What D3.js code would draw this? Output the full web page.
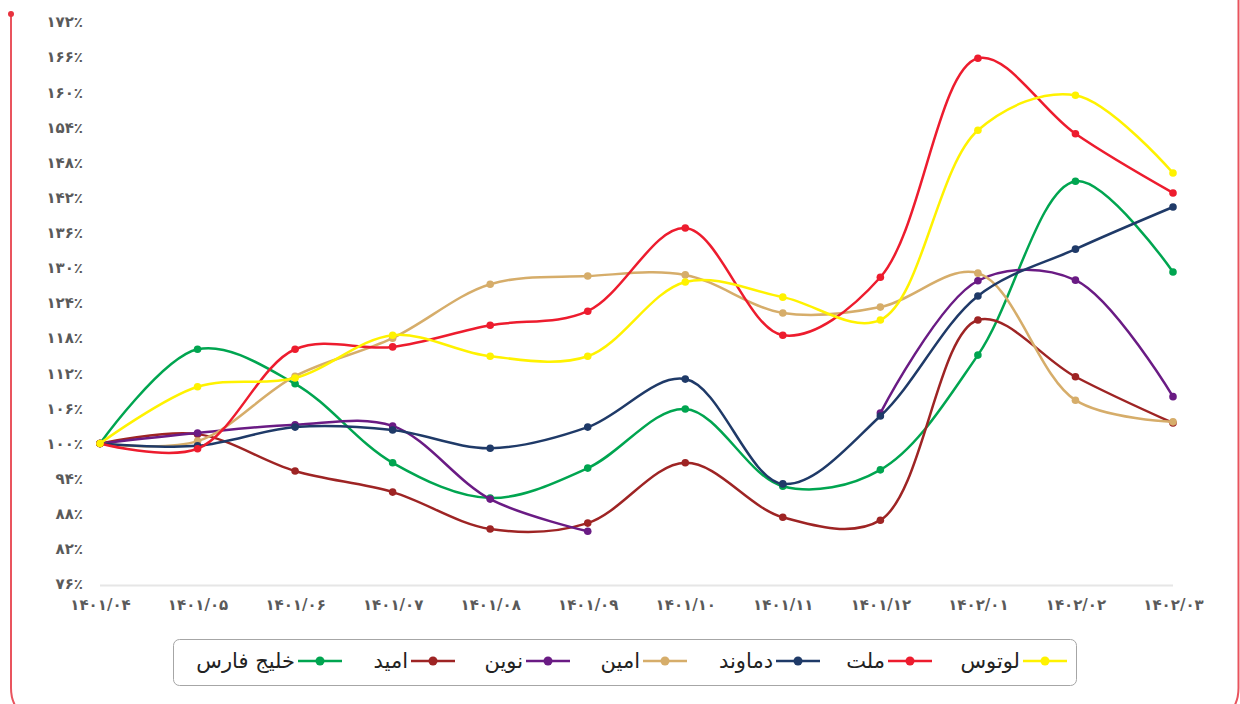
<!DOCTYPE html>
<html>
<head>
<meta charset="utf-8">
<script src="https://cdn.jsdelivr.net/npm/d3@7"></script>
<style>
    body { margin: 0; background: #fff; }
    svg text { font-family: "DejaVu Sans", sans-serif; }
</style>
</head>
<body>
<svg id="chart" width="1240" height="704"></svg>
<script>
var months = ["۱۴۰۱/۰۴", "۱۴۰۱/۰۵", "۱۴۰۱/۰۶", "۱۴۰۱/۰۷", "۱۴۰۱/۰۸", "۱۴۰۱/۰۹",
    "۱۴۰۱/۱۰", "۱۴۰۱/۱۱", "۱۴۰۱/۱۲", "۱۴۰۲/۰۱", "۱۴۰۲/۰۲", "۱۴۰۲/۰۳"];

var yTicks = [76, 82, 88, 94, 100, 106, 112, 118, 124, 130, 136, 142, 148, 154, 160, 166, 172];

var lotus    = [100, 109.7, 111.2, 118.5, 114.9, 114.9, 127.6, 125.0, 121.1, 153.5, 159.5, 146.2];
var mellat   = [100, 99.1, 116.1, 116.5, 120.2, 122.6, 136.8, 118.5, 128.4, 165.8, 152.9, 142.8];
var damavand = [100, 99.6, 102.8, 102.3, 99.2, 102.8, 111.0, 93.1, 104.7, 125.2, 133.2, 140.4];
var amin     = [100, 100.4, 111.5, 118.0, 127.2, 128.6, 128.8, 122.3, 123.3, 129.1, 107.4, 103.7];
var novin    = [100, 101.8, 103.2, 103.0, 90.5, 85.0, null, null, 105.2, 127.8, 127.9, 108.0];
var omid     = [100, 101.6, 95.3, 91.7, 85.4, 86.4, 96.7, 87.4, 86.9, 121.1, 111.4, 103.5];
var khalij   = [100, 116.1, 110.2, 96.7, 90.7, 95.8, 105.9, 92.7, 95.5, 115.1, 144.8, 129.3];

var seriesNames  = ["لوتوس", "ملت", "دماوند", "امین", "نوین", "امید", "خلیج فارس"];
var seriesValues = [lotus, mellat, damavand, amin, novin, omid, khalij];
var seriesColors = ["#fff200", "#ed1c2e", "#1f3a68", "#d6ad6a", "#6a1b84", "#9e2424", "#00a550"];

var svg = d3.select("#chart");

// outer frame (red, rounded bottom)
svg.append("path")
    .attr("d", "M11,14 L11,688 Q11,703 20,712 M1238.5,0 L1238.5,688 Q1238.5,703 1230,712")
    .attr("fill", "none")
    .attr("stroke", "#e9545e")
    .attr("stroke-width", 2);
svg.append("circle").attr("cx", 11).attr("cy", 14).attr("r", 3).attr("fill", "#e8323e");

var x = d3.scalePoint()
    .domain(months)
    .range([100, 1173]);

var y = d3.scaleLinear()
    .domain([76, 172])
    .range([584, 22]);

// axis baseline
svg.append("line")
    .attr("x1", 100).attr("x2", 1173)
    .attr("y1", 585.5).attr("y2", 585.5)
    .attr("stroke", "#e6e6e6")
    .attr("stroke-width", 2);

var toFa = function (n) {
    return String(n).replace(/\d/g, function (d) { return "۰۱۲۳۴۵۶۷۸۹"[+d]; });
};

var yAxis = svg.append("g")
    .attr("transform", "translate(83,0)")
    .call(d3.axisLeft(y).tickValues(yTicks).tickSize(0).tickPadding(0)
        .tickFormat(function (d) { return toFa(d) + "٪"; }));
yAxis.select(".domain").remove();
yAxis.selectAll("text")
    .attr("fill", "#5a5a5a")
    .attr("font-size", 15)
    .attr("font-weight", 600);

var xAxis = svg.append("g")
    .attr("transform", "translate(0,596)")
    .call(d3.axisBottom(x).tickSize(0).tickPadding(3));
xAxis.select(".domain").remove();
xAxis.selectAll("text")
    .attr("fill", "#5a5a5a")
    .attr("font-size", 15)
    .attr("font-weight", 600);

var line = d3.line()
    .defined(function (d) { return d != null; })
    .x(function (d, i) { return x(months[i]); })
    .y(function (d) { return y(d); })
    .curve(d3.curveCatmullRom.alpha(0.5));

// draw from back to front so lotus ends on top like the reference
var order = [6, 5, 4, 3, 2, 1, 0];
order.forEach(function (k) {
    var vals = seriesValues[k];
    var g = svg.append("g");
    g.append("path")
        .attr("d", line(vals))
        .attr("fill", "none")
        .attr("stroke", seriesColors[k])
        .attr("stroke-width", 2.5);
    g.selectAll("circle")
        .data(vals.map(function (v, i) { return { v: v, i: i }; }).filter(function (d) { return d.v != null; }))
        .enter()
        .append("circle")
        .attr("cx", function (d) { return x(months[d.i]); })
        .attr("cy", function (d) { return y(d.v); })
        .attr("r", 3.8)
        .attr("fill", seriesColors[k]);
});

// legend
svg.append("rect")
    .attr("x", 173.5).attr("y", 639.5)
    .attr("width", 903).attr("height", 46)
    .attr("rx", 6)
    .attr("fill", "#fff")
    .attr("stroke", "#a6a6a6");

var legendX = [1045, 910, 798, 665, 548, 433, 320];
seriesNames.forEach(function (name, k) {
    var cx = legendX[k];
    var g = svg.append("g");
    g.append("line")
        .attr("x1", cx - 22).attr("x2", cx + 22)
        .attr("y1", 661).attr("y2", 661)
        .attr("stroke", seriesColors[k])
        .attr("stroke-width", 2.5);
    g.append("circle")
        .attr("cx", cx).attr("cy", 661).attr("r", 4.5)
        .attr("fill", seriesColors[k]);
    g.append("text")
        .attr("x", cx - 25)
        .attr("y", 668)
        .attr("text-anchor", "end")
        .attr("font-size", 21)
        .attr("fill", "#222")
        .text(name);
});
</script>
</body>
</html>
